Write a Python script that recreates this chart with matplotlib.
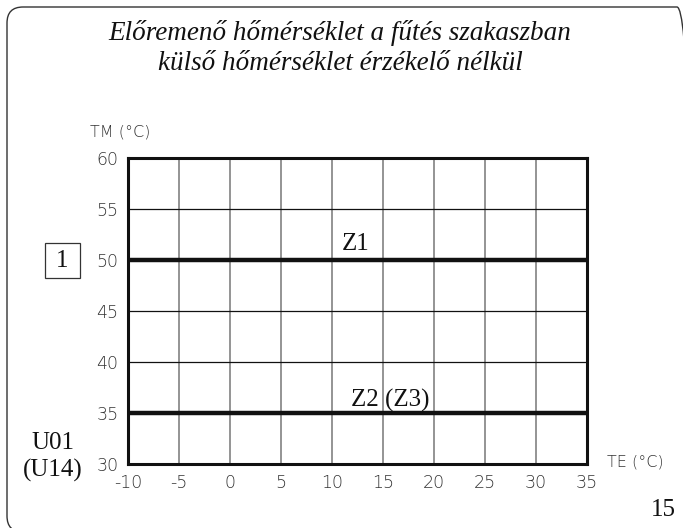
import matplotlib.pyplot as plt
from matplotlib.patches import FancyBboxPatch, Rectangle
from matplotlib.transforms import IdentityTransform

plt.rcParams["axes.unicode_minus"] = False

# data
te_ticks = [-10, -5, 0, 5, 10, 15, 20, 25, 30, 35]
tm_ticks = [30, 35, 40, 45, 50, 55, 60]
z1_te = [-10, 35]
z1_tm = [50, 50]
z2_te = [-10, 35]
z2_tm = [35, 35]

title = "Előremenő hőmérséklet a fűtés szakaszban\nkülső hőmérséklet érzékelő nélkül"
serif = "Liberation Serif"
sans = "DejaVu Sans"
tick_col = "#333333"

fig = plt.figure(figsize=(6.83, 5.28), dpi=100)
W, H = 683.0, 528.0

# rounded frame round the page, right and bottom sides run off the picture
frame = FancyBboxPatch((7, -4), 686, 525,
                       boxstyle="round,pad=0,rounding_size=16",
                       transform=IdentityTransform(), fill=False,
                       lw=1.0, ec="#333333", clip_on=False)
fig.patches.append(frame)

fig.text(340 / W, 1 - 48 / H, title, ha="center", va="center",
         fontsize=19.5, style="italic", family=serif, color="#111111",
         linespacing=1.3)

ax = fig.add_axes([128 / W, 1 - 464 / H, 459 / W, 306 / H])
ax.set_xlim(te_ticks[0], te_ticks[-1])
ax.set_ylim(tm_ticks[0], tm_ticks[-1])
ax.set_xticks(te_ticks)
ax.set_yticks(tm_ticks)
ax.tick_params(length=0, pad=7, labelsize=12.5, labelcolor=tick_col)
for lab in ax.get_xticklabels() + ax.get_yticklabels():
    lab.set_fontfamily(sans)
    lab.set_fontweight("light")

for x in te_ticks[1:-1]:
    ax.axvline(x, color="#777777", lw=1.1, zorder=1)
for y in tm_ticks[1:-1]:
    ax.axhline(y, color="#111111", lw=0.9, zorder=1)

ax.plot(z1_te, z1_tm, color="#111111", lw=3.2, solid_capstyle="butt", zorder=3)
ax.plot(z2_te, z2_tm, color="#111111", lw=3.2, solid_capstyle="butt", zorder=3)
for s in ax.spines.values():
    s.set_linewidth(2.2)
    s.set_color("#111111")

ax.text(12.3, 51.0, "Z1", ha="center", va="baseline", fontsize=18,
        family=serif, color="#111111")
ax.text(15.7, 35.6, "Z2 (Z3)", ha="center", va="baseline", fontsize=18,
        family=serif, color="#111111")

# axis titles
fig.text(90 / W, 1 - 132 / H, "TM (°C)", ha="left", va="center",
         fontsize=11.5, family=sans, fontweight="light", color=tick_col)
fig.text(607 / W, 1 - 462 / H, "TE (°C)", ha="left", va="center",
         fontsize=11.5, family=sans, fontweight="light", color=tick_col)

# side labels
fig.patches.append(Rectangle((45 / W, 1 - 278 / H), 35 / W, 35 / H,
                             transform=fig.transFigure, fill=False,
                             lw=0.9, ec="#333333"))
fig.text(62.5 / W, 1 - 261 / H, "1", ha="center", va="center",
         fontsize=18, family=serif, color="#111111")
fig.text(74 / W, 1 - 443 / H, "U01", ha="right", va="center",
         fontsize=18, family=serif, color="#111111")
fig.text(53 / W, 1 - 470 / H, "(U14)", ha="center", va="center",
         fontsize=18, family=serif, color="#111111")
fig.text(676 / W, 1 - 510 / H, "15", ha="right", va="center",
         fontsize=18, family=serif, color="#111111")

fig.savefig("out.png", dpi=100)
